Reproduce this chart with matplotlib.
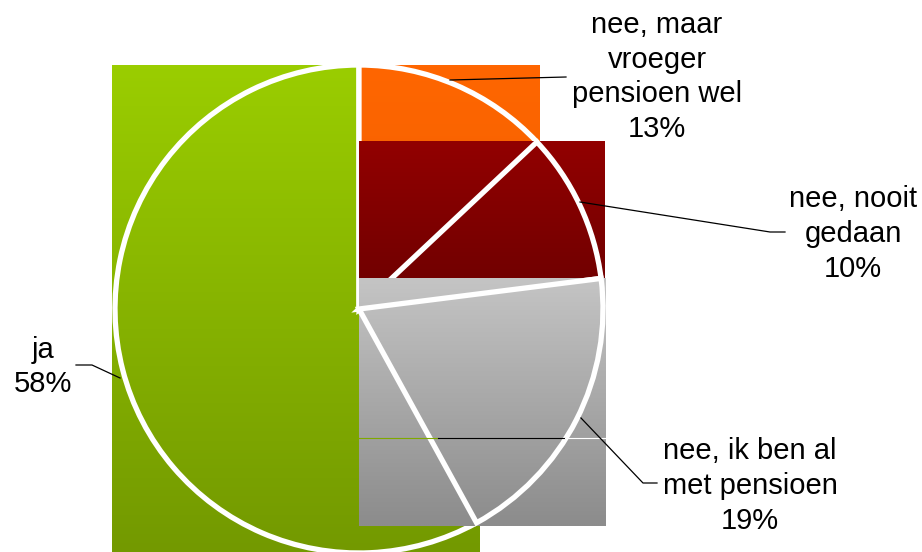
import numpy as np
import matplotlib
matplotlib.use('Agg')
import matplotlib.pyplot as plt

plt.rcParams['font.family'] = ['Liberation Sans', 'DejaVu Sans']

# data (clockwise from 12 o'clock)
labels = ['nee, maar\nvroeger\npensioen wel', 'nee, nooit\ngedaan',
          'nee, ik ben al\nmet pensioen', 'ja']
values = [13, 10, 19, 58]
top_colors = ['#FF6600', '#920000', '#C4C4C4', '#9ACD00']
bottom_colors = ['#EE5F00', '#6A0000', '#8C8C8C', '#739900']

W, H = 922, 552
fig = plt.figure(figsize=(W / 100, H / 100), dpi=100)
ax = fig.add_axes([0, 0, 1, 1])

wedges, _ = ax.pie(values, startangle=90, counterclock=False,
                   center=(359, H - 309), radius=244,
                   wedgeprops=dict(facecolor='none', edgecolor='white', linewidth=3.8))

# Excel-like rendering: each slice's fill is its bounding box with a vertical gradient
pad = 3
draw_order = [3, 0, 1, 2]  # ja, orange, dark red, gray
for k, i in enumerate(draw_order):
    w = wedges[i]
    bb = w.get_path().get_extents()
    c0 = np.array(matplotlib.colors.to_rgb(top_colors[i]))
    c1 = np.array(matplotlib.colors.to_rgb(bottom_colors[i]))
    t = np.linspace(0, 1, 64)[:, None, None]
    grad = c0 * (1 - t) + c1 * t
    x0 = bb.x0 - pad if bb.x0 < 300 else bb.x0
    ax.imshow(grad, extent=(x0, bb.x1 + pad, bb.y0 - pad, bb.y1),
              origin='upper', aspect='auto', interpolation='bilinear', zorder=2 * k + 1)
    w.set_zorder(2 * k + 2)

# stray rendering line across the gray block
ax.plot([358, 438], [H - 438, H - 438], color='#7FA800', linewidth=0.8, zorder=9)
ax.plot([438, 565], [H - 438, H - 438], color='black', linewidth=0.8, zorder=9)
ax.plot([565, 607], [H - 438, H - 438], color='white', linewidth=0.8, zorder=9)

# label texts and leader lines (pixel positions, y measured from top)
label_pos = [(657, 77), (853, 234), (750, 486), (43, 367)]
leaders = [[(450, 80), (566, 77)],
           [(580, 202), (770, 232), (785, 232)],
           [(581, 418), (643, 483), (657, 483)],
           [(120, 378), (92, 365), (76, 365)]]
for i in range(len(values)):
    x, y = label_pos[i]
    ax.text(x, H - y, '%s\n%d%%' % (labels[i], values[i]), ha='center', va='center',
            fontsize=21, color='black', linespacing=1.3, zorder=20)
    pts = leaders[i]
    ax.plot([p[0] for p in pts], [H - p[1] for p in pts], color='black',
            linewidth=0.9, zorder=20)

ax.set_xlim(0, W)
ax.set_ylim(0, H)
ax.set_aspect('auto')
ax.axis('off')
fig.savefig('out.png', dpi=100, facecolor='white')
